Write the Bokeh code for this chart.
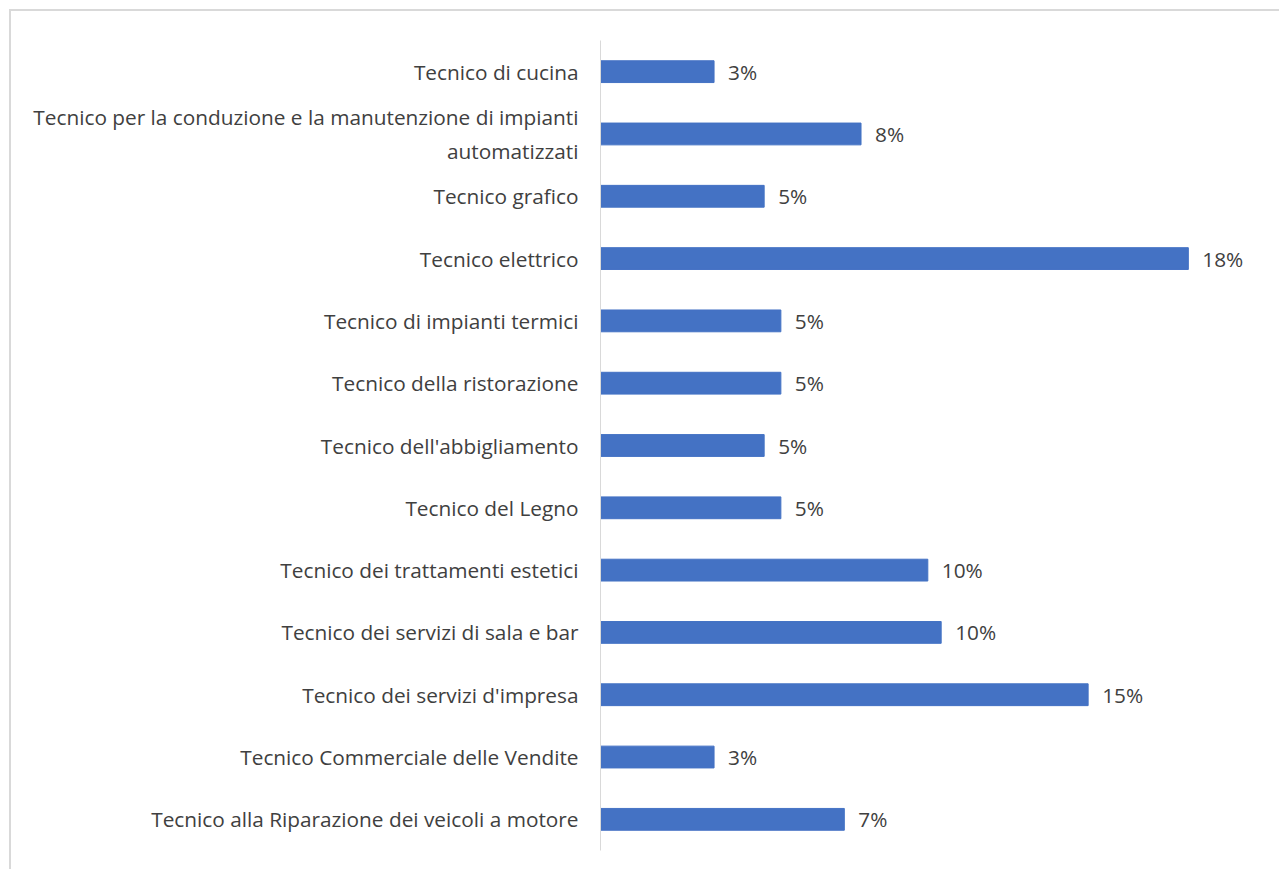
from bokeh.plotting import figure
from bokeh.models import ColumnDataSource, LabelSet, Range1d, FactorRange
from bokeh.core.properties import value
from bokeh.embed import file_html
from bokeh.resources import INLINE

categories = [
    "Tecnico di cucina",
    "Tecnico per la conduzione e la manutenzione di impianti\nautomatizzati",
    "Tecnico grafico",
    "Tecnico elettrico",
    "Tecnico di impianti termici",
    "Tecnico della ristorazione",
    "Tecnico dell'abbigliamento",
    "Tecnico del Legno",
    "Tecnico dei trattamenti estetici",
    "Tecnico dei servizi di sala e bar",
    "Tecnico dei servizi d'impresa",
    "Tecnico Commerciale delle Vendite",
    "Tecnico alla Riparazione dei veicoli a motore",
]
values = [3.4, 7.8, 4.9, 17.6, 5.4, 5.4, 4.9, 5.4, 9.8, 10.2, 14.6, 3.4, 7.3]
value_labels = ["3%", "8%", "5%", "18%", "5%", "5%", "5%", "5%", "10%", "10%", "15%", "3%", "7%"]

FONT = "Open Sans"
TEXT = "#404040"
FS = "20.8px"

source = ColumnDataSource(data=dict(cat=categories, val=values, lab=value_labels))

p = figure(
    y_range=FactorRange(factors=list(reversed(categories))),
    x_range=Range1d(0, 20),
    width=1270, height=860,
    output_backend="svg", toolbar_location=None,
    x_axis_location=None,
    min_border_left=589, min_border_top=29, min_border_bottom=21, min_border_right=13,
)
p.styles = {"border-top": "2px solid #d9d9d9", "border-left": "2px solid #d9d9d9",
            "margin-top": "9px", "margin-left": "9px"}
p.outline_line_color = None
p.xgrid.visible = False
p.ygrid.visible = False

p.hbar(y="cat", right="val", left=0, height=0.35, color="#4472C4", source=source)

ax = p.yaxis[0]
ax.axis_line_color = "#d9d9d9"
ax.major_tick_line_color = None
ax.minor_tick_line_color = None
ax.major_tick_out = 0
ax.major_label_standoff = 22
ax.major_label_text_font = FONT
ax.major_label_text_font_size = FS
ax.major_label_text_color = TEXT

labels = LabelSet(x="val", y="cat", text="lab", source=source, x_offset=14,
                  text_baseline="middle", text_align="left",
                  text_font=value(FONT), text_font_size=value(FS), text_color=TEXT)
p.add_layout(labels)

open("out.html", "w").write(file_html(p, INLINE))
